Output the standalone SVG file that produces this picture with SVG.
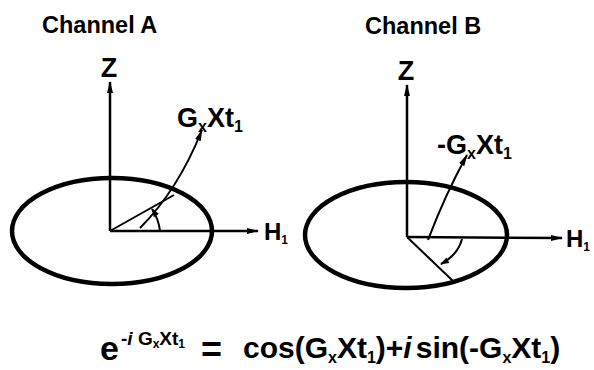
<svg xmlns="http://www.w3.org/2000/svg" width="594" height="370" viewBox="0 0 594 370">
  <defs>
    <marker id="arr" viewBox="0 0 12 8" refX="11" refY="4" markerWidth="12" markerHeight="8" markerUnits="userSpaceOnUse" orient="auto">
      <path d="M0,1 L12,4 L0,7 z" fill="#000"/>
    </marker>
    <marker id="arrS" viewBox="0 0 10 8" refX="9" refY="4" markerWidth="9" markerHeight="7" markerUnits="userSpaceOnUse" orient="auto">
      <path d="M0,0.5 L10,4 L0,7.5 z" fill="#000"/>
    </marker>
  </defs>
  <style>
    text { font-family: "Liberation Sans", Arial, sans-serif; font-weight: bold; fill: #000; }
    .title { font-size: 23.5px; }
    .lab { font-size: 27px; }
    .hl { font-size: 24px; }
    .sub { font-size: 16px; }
    .hsub { font-size: 12px; }
    .eq { font-size: 30px; }
    .ell { fill: none; stroke: #000; stroke-width: 4.5; }
    .ax { fill: none; stroke: #000; stroke-width: 2.5; }
    .thin { fill: none; stroke: #000; stroke-width: 2; }
  </style>
  <rect width="594" height="370" fill="#fff"/>

  <g id="channelA">
    <text class="title" x="42" y="33">Channel A</text>
    <ellipse class="ell" cx="112" cy="231" rx="100" ry="53"/>
    <text class="lab" x="109" y="77" text-anchor="middle">Z</text>
    <text class="hl" x="264" y="240">H<tspan class="hsub" dy="4">1</tspan></text>
    <text class="lab" x="177" y="127">G<tspan class="sub" dy="5">x</tspan><tspan dy="-5">Xt</tspan><tspan class="sub" dy="5">1</tspan></text>
  </g>

  <g id="channelB">
    <text class="title" x="365" y="34">Channel B</text>
    <ellipse class="ell" cx="406" cy="235" rx="101" ry="53"/>
    <text class="lab" x="406" y="80" text-anchor="middle">Z</text>
    <text class="hl" x="566" y="247">H<tspan class="hsub" dy="4">1</tspan></text>
    <text class="lab" x="437" y="154">-G<tspan class="sub" dy="5">x</tspan><tspan dy="-5">Xt</tspan><tspan class="sub" dy="5">1</tspan></text>
  </g>

  <g id="connectors">
    <line class="ax" x1="110" y1="231" x2="110" y2="82" marker-end="url(#arr)"/>
    <line class="ax" x1="110" y1="231" x2="258" y2="231" marker-end="url(#arr)"/>
    <line class="thin" x1="110" y1="231" x2="174" y2="195"/>
    <path class="thin" d="M140,228 Q178,190 202,130" marker-end="url(#arr)"/>
    <path class="thin" d="M160,231 A50,50 0 0 0 152,209" marker-end="url(#arrS)"/>

    <line class="ax" x1="407" y1="237" x2="407" y2="85" marker-end="url(#arr)"/>
    <line class="ax" x1="407" y1="237" x2="562" y2="238" marker-end="url(#arr)"/>
    <line class="thin" x1="407" y1="237" x2="453" y2="281"/>
    <path class="thin" d="M428,240 Q445,195 467,155" marker-end="url(#arr)"/>
    <path class="thin" d="M462,239 A52,40 0 0 1 441,264" marker-end="url(#arrS)"/>
  </g>

  <g id="equation">
    <text x="100" y="360" style="font-size:34px">e</text>
    <text x="121" y="345" style="font-size:19px">-<tspan font-style="italic">i</tspan> G<tspan style="font-size:12px" dy="3">x</tspan><tspan dy="-3">Xt</tspan><tspan style="font-size:12px" dy="3">1</tspan></text>
    <text x="201" y="362" style="font-size:36px">=</text>
    <text class="eq" x="243" y="358">cos(G<tspan class="sub" dy="5">x</tspan><tspan dy="-5">Xt</tspan><tspan class="sub" dy="5">1</tspan><tspan dy="-5">)+</tspan><tspan font-style="italic">i</tspan><tspan dx="4">sin(-G</tspan><tspan class="sub" dy="5">x</tspan><tspan dy="-5">Xt</tspan><tspan class="sub" dy="5">1</tspan><tspan dy="-5">)</tspan></text>
  </g>
</svg>
